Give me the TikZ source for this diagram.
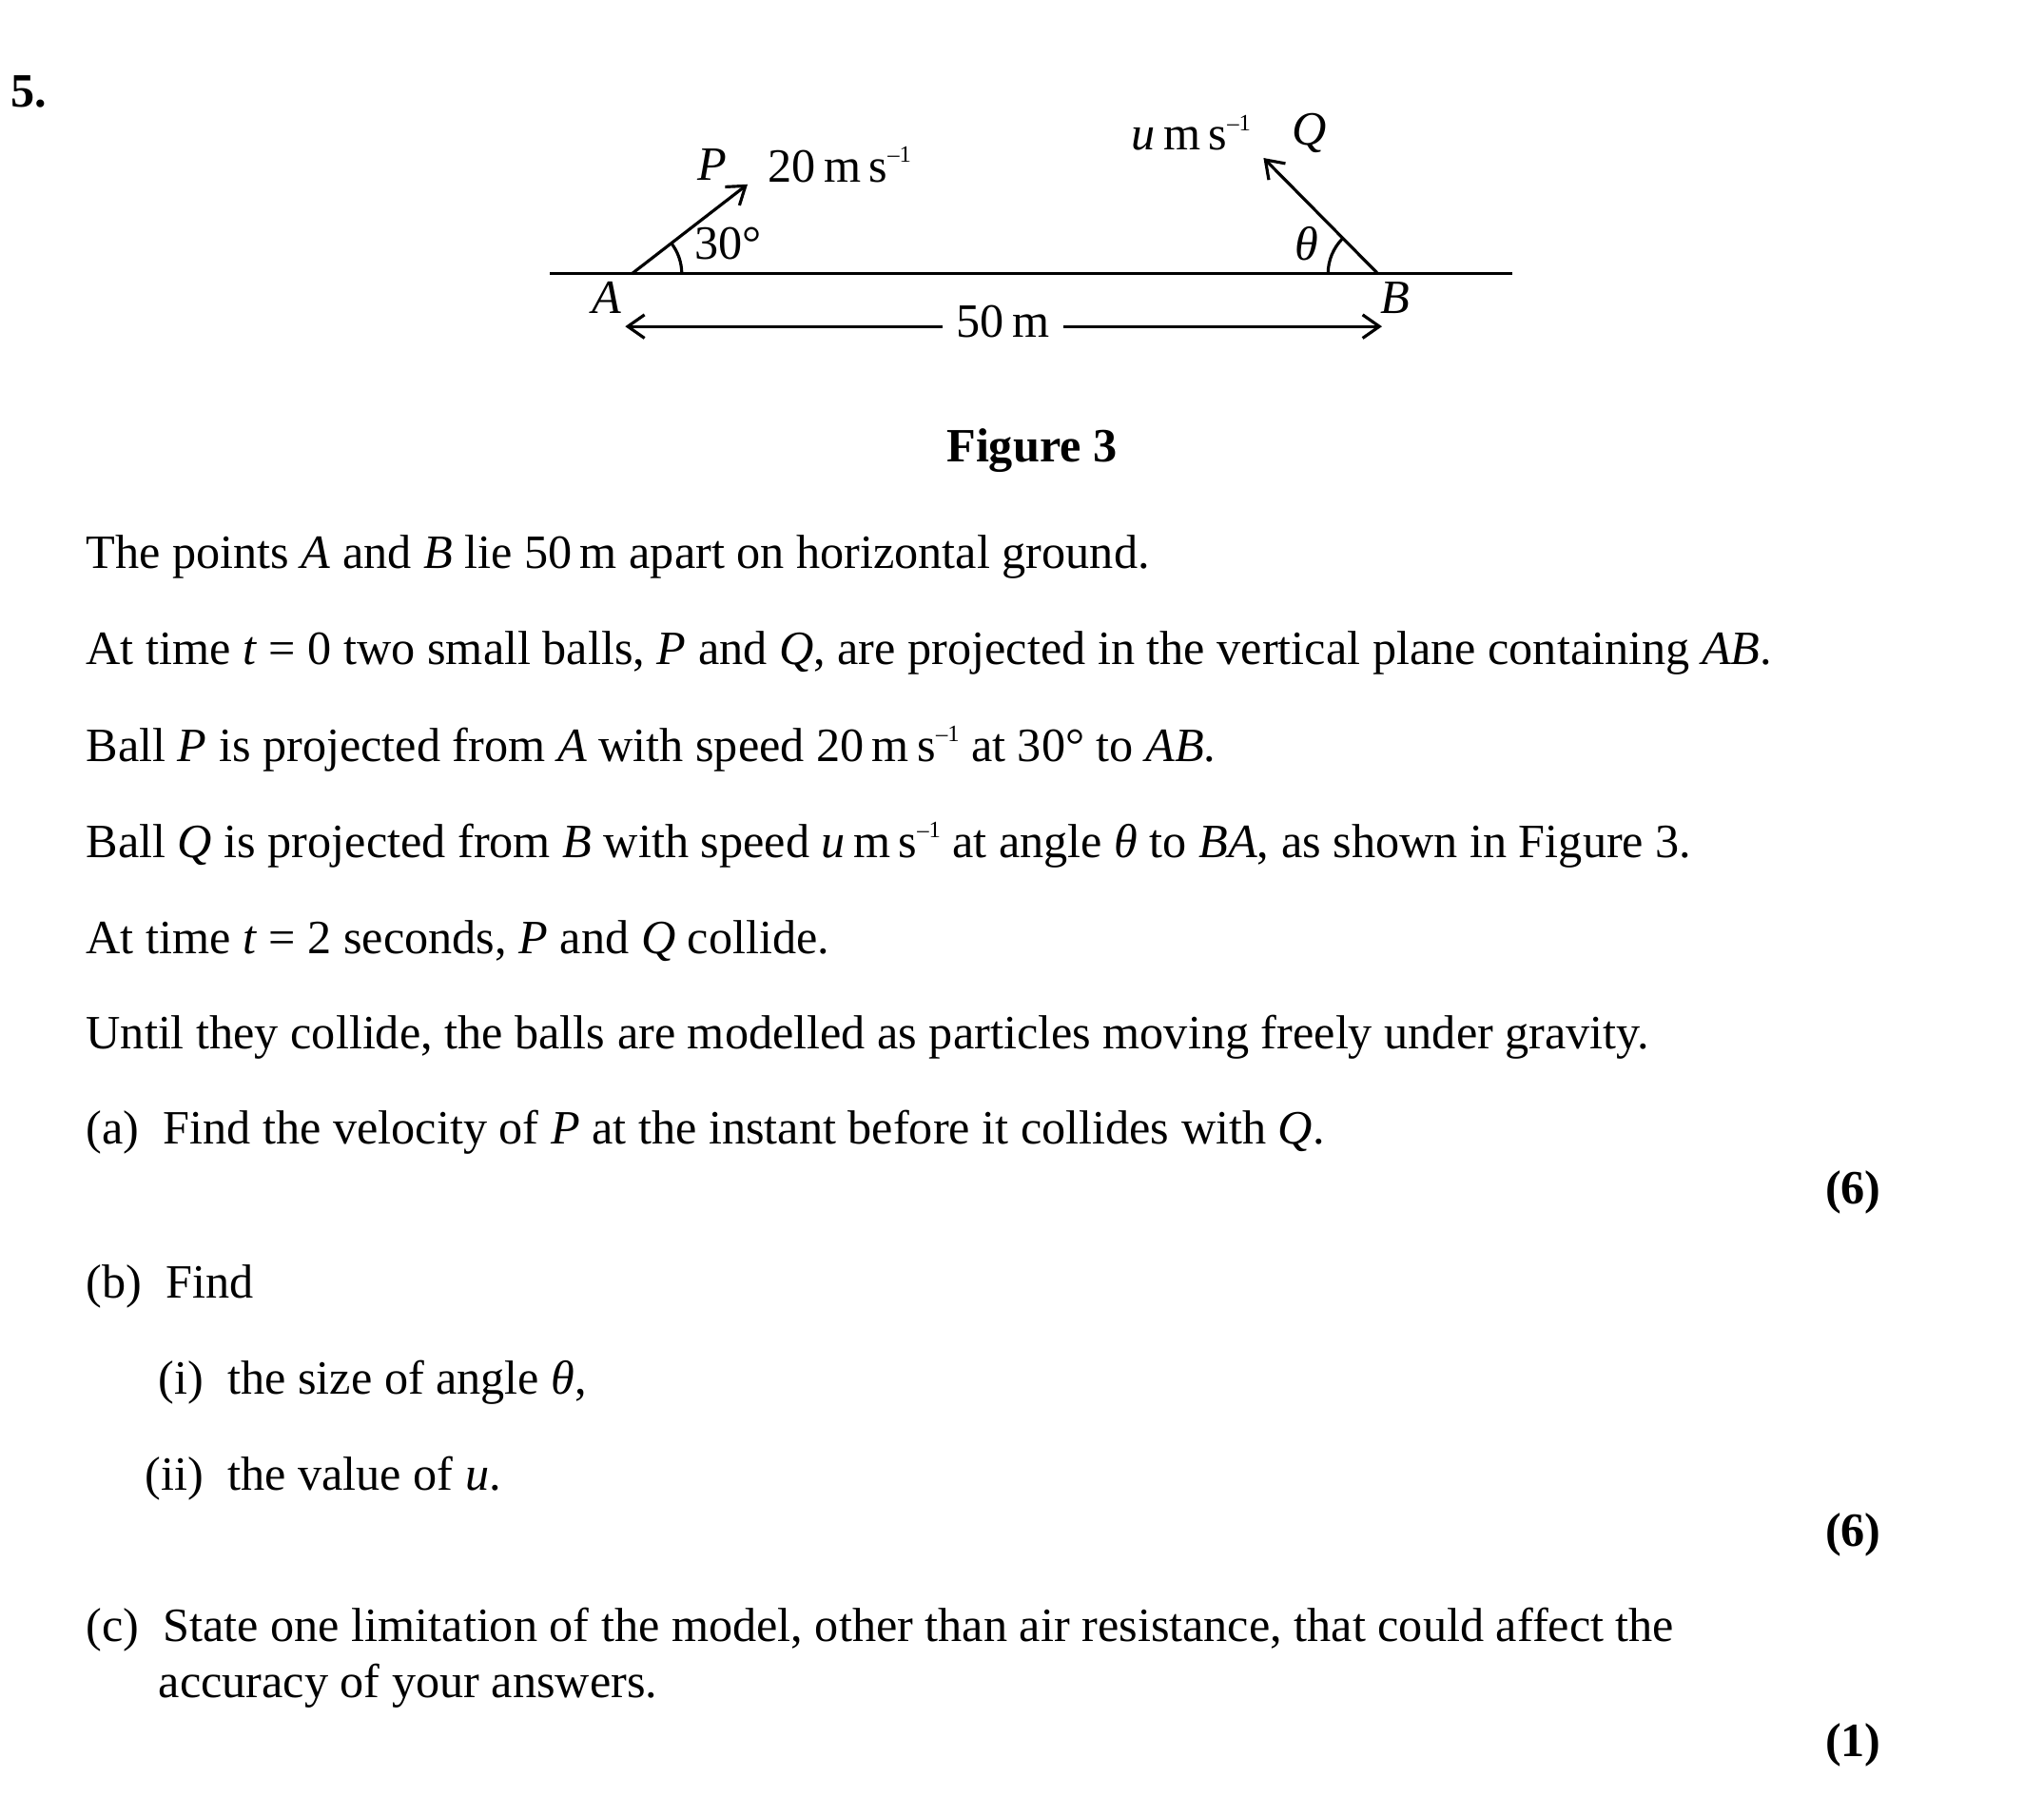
\documentclass[tikz,border=0pt]{standalone}
\usepackage{fontspec}
\setmainfont{Liberation Serif}
\usetikzlibrary{arrows.meta}
\newcommand{\ms}{m\,s\raisebox{0.9ex}{\scriptsize –1}}
\begin{document}
\begin{tikzpicture}[x=0.013838cm,y=-0.013838cm,
  txt/.style={anchor=west,inner sep=0pt,font=\fontsize{14.3}{17}\selectfont},
  lbl/.style={inner sep=0pt,font=\fontsize{14.3}{17}\selectfont},
  mk/.style={inner sep=0pt,font=\bfseries\fontsize{14.3}{17}\selectfont},
  ln/.style={line width=0.9pt},
  arr/.style={ln,-{Straight Barb[length=5pt,width=7pt]}}]
\useasboundingbox (0,0) rectangle (1553,1380);
\node[mk] (num) at (22,70) {5.};
\coordinate (g1) at (418,208); \coordinate (g2) at (1149,208);
\draw[ln] (g1) -- (g2);
\coordinate (A) at (480,208); \coordinate (B) at (1047,208);
\coordinate (Pt) at (568,140); \coordinate (Qt) at (960,120);
\draw[arr] (A) -- (Pt);
\draw[arr] (B) -- (Qt);
\draw[ln] (518,208) arc (0:37.7:38 and -38);
\draw[ln] (1009,208) arc (180:134.7:38 and -38);
\node[lbl] (Pl) at (541,125) {\textit{P}};
\node[lbl] (Pv) at (638,125) {20\,\ms};
\node[lbl] (Qv) at (905,101) {\textit{u}\,\ms};
\node[lbl] (Ql) at (995,101) {\textit{Q}};
\node[lbl] (a30) at (553,185) {30°};
\node[lbl] (th) at (993,185) {\textit{θ}};
\node[lbl] (Al) at (461,226) {\textit{A}};
\node[lbl] (Bl) at (1060,226) {\textit{B}};
\node[lbl,fill=white,inner xsep=4pt] (d) at (762,244) {50\,m};
\coordinate (d1) at (475,248); \coordinate (d2) at (1050,248);
\draw[arr] (d.west|-d1) -- (d1);
\draw[arr] (d.east|-d2) -- (d2);
\node[mk] (fig) at (784,342) {Figure 3};
\node[txt] (t1) at (65,423) {The points \textit{A} and \textit{B} lie 50\,m apart on horizontal ground.};
\node[txt] (t2) at (65,496) {At time \textit{t} = 0 two small balls, \textit{P} and \textit{Q}, are projected in the vertical plane containing \textit{AB}.};
\node[txt] (t3) at (65,569) {Ball \textit{P} is projected from \textit{A} with speed 20\,\ms{} at 30° to \textit{AB}.};
\node[txt] (t4) at (65,642) {Ball \textit{Q} is projected from \textit{B} with speed \textit{u}\,\ms{} at angle \textit{θ} to \textit{BA}, as shown in Figure 3.};
\node[txt] (t5) at (65,715) {At time \textit{t} = 2 seconds, \textit{P} and \textit{Q} collide.};
\node[txt] (t6) at (65,788) {Until they collide, the balls are modelled as particles moving freely under gravity.};
\node[txt] (t7) at (65,860) {(a)\ \ Find the velocity of \textit{P} at the instant before it collides with \textit{Q}.};
\node[mk] (m1) at (1408,906) {(6)};
\node[txt] (t8) at (65,977) {(b)\ \ Find};
\node[txt] (t9) at (120,1050) {(i)\ \ the size of angle \textit{θ},};
\node[txt] (t10) at (110,1123) {(ii)\ \ the value of \textit{u}.};
\node[mk] (m2) at (1408,1166) {(6)};
\node[txt] (t11) at (65,1238) {(c)\ \ State one limitation of the model, other than air resistance, that could affect the};
\node[txt] (t12) at (120,1281) {accuracy of your answers.};
\node[mk] (m3) at (1408,1326) {(1)};
\end{tikzpicture}
\end{document}
